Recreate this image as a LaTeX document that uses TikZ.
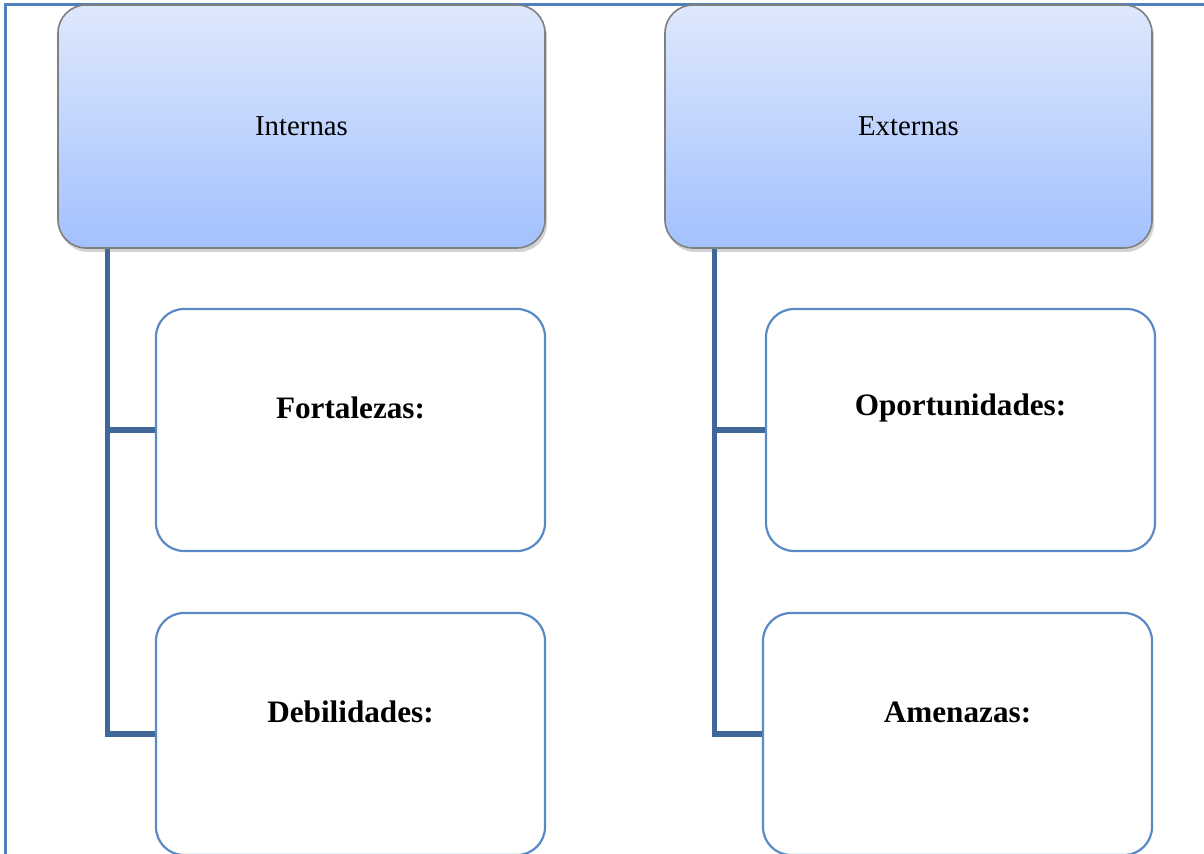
\documentclass[tikz,border=0pt]{standalone}
\usepackage{fontspec}
\setmainfont{Liberation Serif}
\usetikzlibrary{shadows}

\definecolor{frameblue}{HTML}{4F81BD}
\definecolor{connblue}{HTML}{3F6899}
\definecolor{boxblue}{HTML}{5A8AC6}
\definecolor{hdrtop}{HTML}{DEE8FC}
\definecolor{hdrbot}{HTML}{A3C1FE}
\definecolor{hdrline}{HTML}{7F7F7F}

\tikzset{
  header/.style={draw=hdrline, line width=0.8pt, rounded corners=14pt,
    top color=hdrtop, bottom color=hdrbot,
    minimum width=243.5pt, minimum height=121.5pt, inner sep=0pt,
    drop shadow={opacity=0.35, shadow xshift=1pt, shadow yshift=-2pt}},
  childbox/.style={draw=boxblue, line width=1.1pt, rounded corners=14pt,
    fill=white, minimum width=194.5pt, minimum height=121pt, inner sep=0pt},
  hdrtext/.style={font=\fontsize{14.4}{17}\selectfont},
  boxtext/.style={font=\fontsize{15.6}{18}\selectfont\bfseries},
  conn/.style={draw=connblue, line width=2.6pt},
  frame/.style={draw=frameblue, line width=1.5pt}
}

\begin{document}
\begin{tikzpicture}[x=0.5pt, y=-0.5pt]
  \useasboundingbox (0,0) rectangle (1204,854);

  % outer frame
  \draw [frame] (5,860) -- (5,5) -- (1210,5);

  % left column
  \node [header] (int) at (301.5,126.5) {};
  \node [hdrtext] (intT) at (int.center) {Internas};
  \node [childbox] (fort) at (350.5,430) {};
  \node [boxtext] (fortT) at ([yshift=11pt]fort.center) {Fortalezas:};
  \node [childbox] (deb) at (350.5,734) {};
  \node [boxtext] (debT) at ([yshift=11pt]deb.center) {Debilidades:};
  \coordinate (intA) at ([xshift=25pt]int.south west);
  \draw [conn] (intA) |- (deb.west);
  \draw [conn] (intA |- fort.west) -- (fort.west);

  % right column
  \node [header] (ext) at (908.5,126.5) {};
  \node [hdrtext] (extT) at (ext.center) {Externas};
  \node [childbox] (opo) at (960.5,430) {};
  \node [boxtext] (opoT) at ([yshift=11pt]opo.center) {Oportunidades:};
  \node [childbox] (ame) at (957.5,734) {};
  \node [boxtext] (ameT) at ([yshift=11pt]ame.center) {Amenazas:};
  \coordinate (extA) at ([xshift=25pt]ext.south west);
  \draw [conn] (extA) |- (ame.west);
  \draw [conn] (extA |- opo.west) -- (opo.west);
\end{tikzpicture}
\end{document}
